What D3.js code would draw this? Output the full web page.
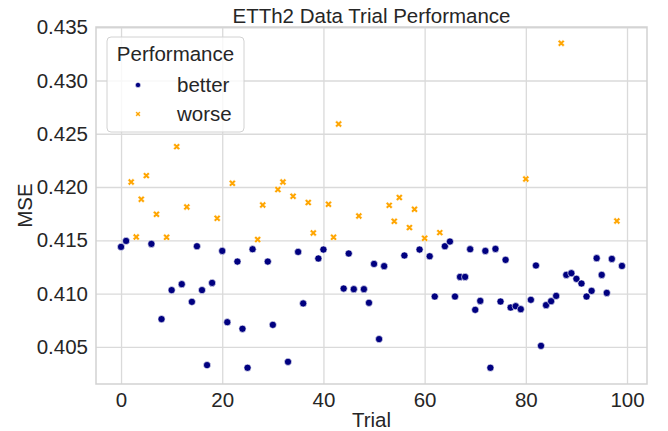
<!DOCTYPE html>
<html>
<head>
<meta charset="utf-8">
<script src="https://cdn.jsdelivr.net/npm/d3@7"></script>
<style>
  body { margin: 0; background: #fff; }
  svg { display: block; font-family: "Liberation Sans", Arial, sans-serif; }
</style>
</head>
<body>
<svg></svg>
<script>
const width = 668;
const height = 431;
const margin = { top: 27, right: 21, bottom: 47, left: 96 };

// MSE per trial (trial = index)
const mse = [
  0.41438, 0.41494, 0.42047, 0.41531, 0.41885, 0.42107, 0.41466, 0.41744, 0.40760, 0.41528,
  0.41032, 0.42379, 0.41088, 0.41813, 0.40922, 0.41444, 0.41032, 0.40328, 0.41100, 0.41706,
  0.41400, 0.40731, 0.42035, 0.41300, 0.40669, 0.40303, 0.41416, 0.41507, 0.41831, 0.41300,
  0.40706, 0.41976, 0.42047, 0.40359, 0.41913, 0.41391, 0.40907, 0.41854, 0.41569, 0.41329,
  0.41413, 0.41838, 0.41528, 0.42591, 0.41047, 0.41376, 0.41041, 0.41728, 0.41041, 0.40913,
  0.41278, 0.40572, 0.41257, 0.41828, 0.41678, 0.41901, 0.41357, 0.41619, 0.41791, 0.41413,
  0.41519, 0.41350, 0.40972, 0.41572, 0.41444, 0.41488, 0.40972, 0.41156, 0.41156, 0.41416,
  0.40847, 0.40931, 0.41400, 0.40303, 0.41419, 0.40925, 0.41316, 0.40869, 0.40881, 0.40853,
  0.42075, 0.40941, 0.41263, 0.40509, 0.40891, 0.40928, 0.40978, 0.43350, 0.41175, 0.41191,
  0.41138, 0.41094, 0.40972, 0.41025, 0.41332, 0.41175, 0.41006, 0.41325, 0.41681, 0.41259
];

// trials that came out worse
const worseTrials = [2, 3, 4, 5, 7, 9, 11, 13, 19, 22, 27, 28, 31, 32, 34, 37, 38, 41, 42, 43,
  47, 53, 54, 55, 57, 58, 60, 63, 80, 87, 98];

const categories = ['better', 'worse'];
const colors = { better: '#000080', worse: '#ffa500' };
const xTicks = [0, 20, 40, 60, 80, 100];
const yTicks = [0.405, 0.410, 0.415, 0.420, 0.425, 0.430, 0.435];

const data = mse.map((v, i) => ({
  trial: i,
  mse: v,
  perf: worseTrials.includes(i) ? 'worse' : 'better'
}));

const svg = d3.select('svg')
  .attr('width', width)
  .attr('height', height);

const pad = (ext) => {
  const m = (ext[1] - ext[0]) * 0.05;
  return [ext[0] - m, ext[1] + m];
};

const x = d3.scaleLinear()
  .domain(pad(d3.extent(data, d => d.trial)))
  .range([margin.left, width - margin.right]);

const y = d3.scaleLinear()
  .domain(pad(d3.extent(data, d => d.mse)))
  .range([height - margin.bottom, margin.top]);

const textColor = '#262626';
const gridColor = '#dadada';

// grid
svg.append('g')
  .attr('transform', `translate(0,${height - margin.bottom})`)
  .call(d3.axisBottom(x).tickValues(xTicks).tickSize(-(height - margin.top - margin.bottom)).tickFormat(''))
  .call(g => g.select('.domain').remove())
  .call(g => g.selectAll('line').attr('stroke', gridColor).attr('stroke-width', 1.3));

svg.append('g')
  .attr('transform', `translate(${margin.left},0)`)
  .call(d3.axisLeft(y).tickValues(yTicks).tickSize(-(width - margin.left - margin.right)).tickFormat(''))
  .call(g => g.select('.domain').remove())
  .call(g => g.selectAll('line').attr('stroke', gridColor).attr('stroke-width', 1.3));

// frame
svg.append('rect')
  .attr('x', margin.left)
  .attr('y', margin.top)
  .attr('width', width - margin.left - margin.right)
  .attr('height', height - margin.top - margin.bottom)
  .attr('fill', 'none')
  .attr('stroke', '#d2d2d2')
  .attr('stroke-width', 1.5);

// tick labels
const xAxis = svg.append('g')
  .attr('transform', `translate(0,${height - margin.bottom})`)
  .call(d3.axisBottom(x).tickValues(xTicks).tickSize(0).tickPadding(8));
xAxis.select('.domain').remove();
xAxis.selectAll('text').attr('font-size', 20.5).attr('fill', textColor)
  .attr('font-family', '"Liberation Sans", Arial, sans-serif');

const yAxis = svg.append('g')
  .attr('transform', `translate(${margin.left},0)`)
  .call(d3.axisLeft(y).tickValues(yTicks).tickFormat(d3.format('.3f')).tickSize(0).tickPadding(8));
yAxis.select('.domain').remove();
yAxis.selectAll('text').attr('font-size', 20.5).attr('fill', textColor)
  .attr('font-family', '"Liberation Sans", Arial, sans-serif');

// points
const xSymbol = d3.symbol(d3.symbolCross, 30);
const plot = svg.append('g');

plot.selectAll('circle')
  .data(data.filter(d => d.perf === 'better'))
  .join('circle')
  .attr('cx', d => x(d.trial))
  .attr('cy', d => y(d.mse))
  .attr('r', 3.6)
  .attr('fill', colors.better)
  .attr('stroke', '#fff')
  .attr('stroke-width', 0.6);

plot.selectAll('path')
  .data(data.filter(d => d.perf === 'worse'))
  .join('path')
  .attr('d', xSymbol)
  .attr('transform', d => `translate(${x(d.trial)},${y(d.mse)}) rotate(45)`)
  .attr('fill', colors.worse)
  .attr('stroke', '#fff')
  .attr('stroke-width', 0.5);

// title and labels
svg.append('text')
  .attr('x', (margin.left + width - margin.right) / 2)
  .attr('y', 23)
  .attr('text-anchor', 'middle')
  .attr('font-size', 20.5)
  .attr('fill', textColor)
  .text('ETTh2 Data Trial Performance');

svg.append('text')
  .attr('x', (margin.left + width - margin.right) / 2)
  .attr('y', 427)
  .attr('text-anchor', 'middle')
  .attr('font-size', 20.5)
  .attr('fill', textColor)
  .text('Trial');

svg.append('text')
  .attr('transform', `translate(32,${(margin.top + height - margin.bottom) / 2}) rotate(-90)`)
  .attr('text-anchor', 'middle')
  .attr('font-size', 20.5)
  .attr('fill', textColor)
  .text('MSE');

// legend
const legend = svg.append('g').attr('transform', 'translate(107,37)');
legend.append('rect')
  .attr('width', 137)
  .attr('height', 95)
  .attr('rx', 4)
  .attr('fill', '#fff')
  .attr('fill-opacity', 0.8)
  .attr('stroke', '#d2d2d2');

legend.append('text')
  .attr('x', 68.5)
  .attr('y', 24)
  .attr('text-anchor', 'middle')
  .attr('font-size', 20.5)
  .attr('fill', textColor)
  .text('Performance');

categories.forEach((c, i) => {
  const cy = 48 + i * 29;
  if (c === 'better') {
    legend.append('circle')
      .attr('cx', 31).attr('cy', cy).attr('r', 2.6)
      .attr('fill', colors[c]).attr('stroke', '#fff').attr('stroke-width', 0.5);
  } else {
    legend.append('path')
      .attr('d', d3.symbol(d3.symbolCross, 16)())
      .attr('transform', `translate(31,${cy}) rotate(45)`)
      .attr('fill', colors[c]).attr('stroke', '#fff').attr('stroke-width', 0.4);
  }
  legend.append('text')
    .attr('x', 70)
    .attr('y', cy)
    .attr('dy', '0.35em')
    .attr('font-size', 20.5)
    .attr('fill', textColor)
    .text(c);
});
</script>
</body>
</html>
